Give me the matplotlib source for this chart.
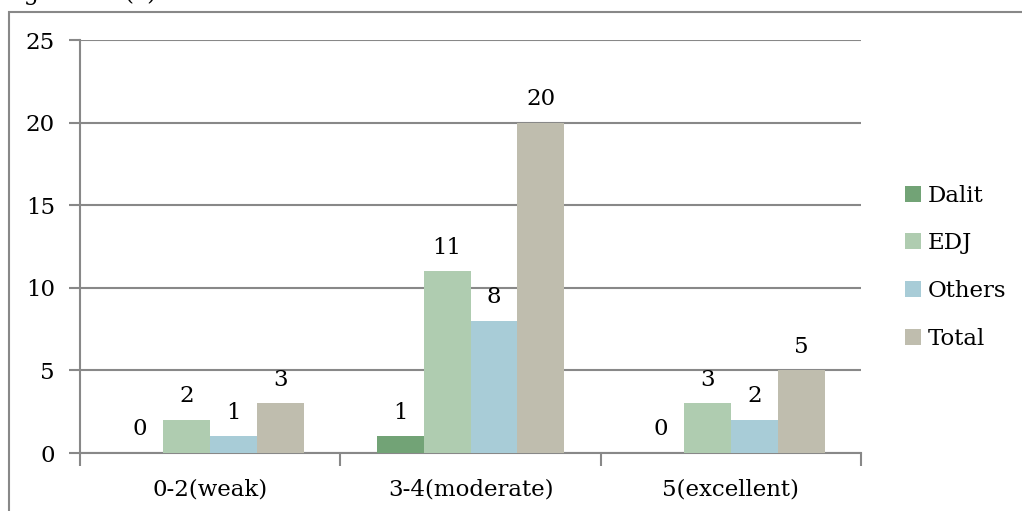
import matplotlib.pyplot as plt
import numpy as np
from matplotlib.patches import Rectangle

categories = ["0-2(weak)", "3-4(moderate)", "5(excellent)"]
dalit = [0, 1, 0]
edj = [2, 11, 3]
others = [1, 8, 2]
total = [3, 20, 5]

series = [("Dalit", dalit, "#72a376"),
          ("EDJ", edj, "#afccb0"),
          ("Others", others, "#a8ccd7"),
          ("Total", total, "#bfbdae")]

plt.rcParams["font.family"] = "DejaVu Serif"
grid_col = "#888888"
fs = 16.5

fig = plt.figure(figsize=(10.22, 5.11), dpi=100)
ax = fig.add_axes([0.0783, 0.1135, 0.7642, 0.8082])

# outer frame of the chart box, cut by the page edges
fig.patches.append(Rectangle((0.009, -0.05), 1.2, 1.0265, transform=fig.transFigure,
                             fill=False, edgecolor=grid_col, linewidth=1.5))
fig.text(0.0, 0.99, "Figure 4.3(c)", fontsize=17, va="bottom", ha="left")

x = np.arange(len(categories))
w = 0.18
for i, (name, vals, col) in enumerate(series):
    pos = x + (i - 1.5) * w
    bars = ax.bar(pos, vals, width=w, color=col, label=name, zorder=3)
    for b, v in zip(bars, vals):
        ax.annotate(str(v), (b.get_x() + b.get_width() / 2, v),
                    xytext=(0, 17), textcoords="offset points",
                    ha="center", va="center", fontsize=fs)

ax.set_xlim(-0.5, 2.5)
ax.set_ylim(0, 25)
ax.set_yticks(range(0, 26, 5))
ax.tick_params(axis="y", labelsize=fs, length=8, width=1.5, color=grid_col, pad=10)
ax.set_xticks(x)
ax.set_xticklabels(categories)
ax.tick_params(axis="x", labelsize=fs, length=0, pad=18)
# category boundary ticks
ax.set_xticks([-0.5, 0.5, 1.5, 2.5], minor=True)
ax.tick_params(axis="x", which="minor", length=9, width=1.5, color=grid_col)

ax.grid(axis="y", color=grid_col, linewidth=1.5, zorder=0)
for s in ["top", "right"]:
    ax.spines[s].set_visible(False)
for s in ["left", "bottom"]:
    ax.spines[s].set_color(grid_col)
    ax.spines[s].set_linewidth(1.5)

ax.legend(loc="center left", bbox_to_anchor=(1.03, 0.45), frameon=False,
          fontsize=fs, handlelength=0.7, handleheight=0.7, handletextpad=0.3,
          labelspacing=1.12)

fig.savefig("out.png", dpi=100)
